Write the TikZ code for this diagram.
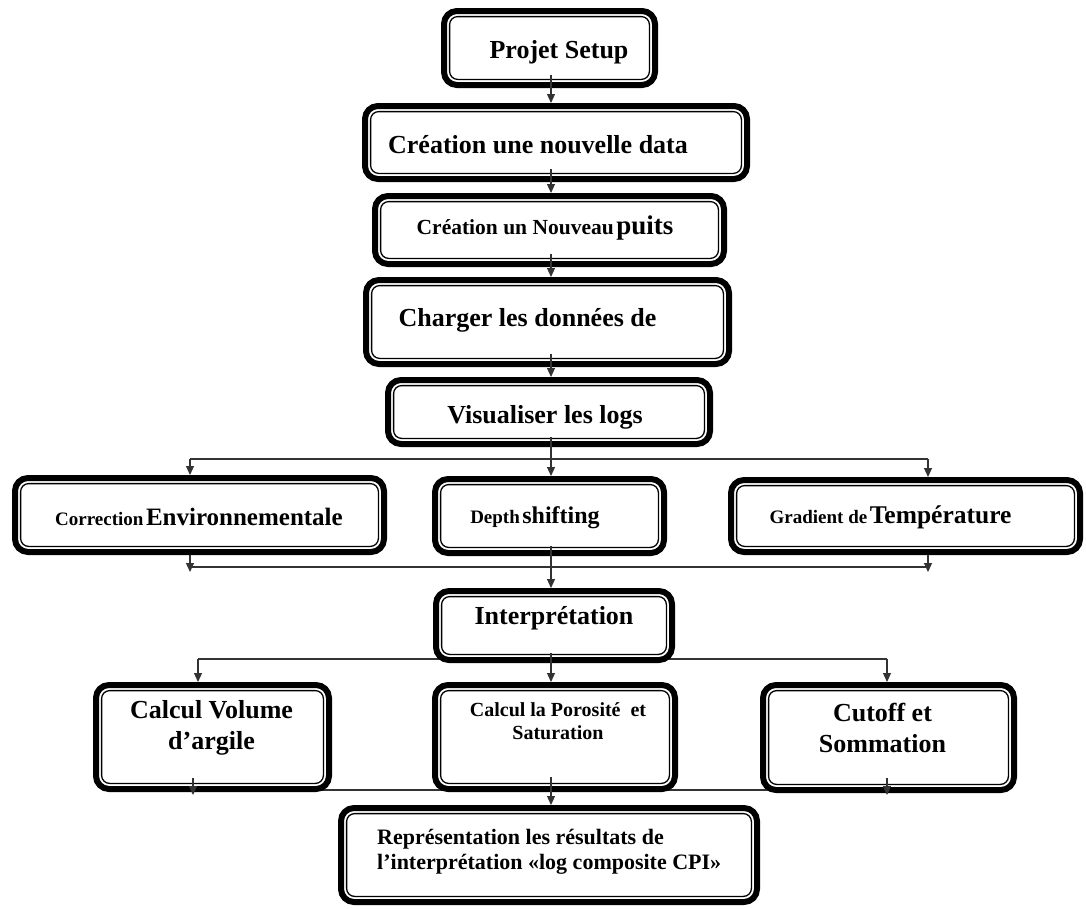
\documentclass[tikz,border=0pt]{standalone}
\usepackage{fontspec}
\setmainfont{Liberation Serif}
\usetikzlibrary{arrows.meta,calc}
\newcommand\myfs[2]{\fontsize{#1}{#2}\selectfont}
\begin{document}
\begin{tikzpicture}[x=1pt,y=-1pt,
 box/.style={draw, fill=white, line width=6pt, rounded corners=13pt, inner sep=0pt},
 inbox/.style={draw=black, line width=1.3pt, rounded corners=8pt},
 ln/.style={line width=1.1pt, draw=black!80},
 arr/.style={ln, -{Triangle[length=9pt,width=8pt]}},
 txt/.style={font=\bfseries, inner sep=0pt, align=center}]
\useasboundingbox (0,0) rectangle (1086,908);
% lines passing behind boxes
\coordinate (col) at (551,0);
\coordinate (s1L) at (190,459); \coordinate (s1R) at (928,459);
\coordinate (m1L) at (190,567); \coordinate (m1R) at (928,567);
\coordinate (s2L) at (198,659); \coordinate (s2R) at (887,659); \coordinate (s2M) at (551,659);
\coordinate (m2L) at (193,790); \coordinate (m2R) at (887,790);
\draw[ln] (s2L) -- (s2R);
\draw[ln] (m2L) -- (m2R);
% boxes
\node[box, minimum width=211pt, minimum height=74pt] (b1) at (549.5,48) {};
\node[box, minimum width=382pt, minimum height=73pt] (b2) at (556,142.5) {};
\node[box, minimum width=349pt, minimum height=68pt] (b3) at (549.5,230) {};
\node[box, minimum width=363pt, minimum height=84pt] (b4) at (547.5,322) {};
\node[box, minimum width=322pt, minimum height=64pt] (b5) at (549,412) {};
\node[box, minimum width=369pt, minimum height=74pt] (c1) at (199.5,515) {};
\node[box, minimum width=229pt, minimum height=74pt] (c2) at (549.5,516) {};
\node[box, minimum width=349pt, minimum height=72pt] (c3) at (905.5,516) {};
\node[box, minimum width=236pt, minimum height=69pt] (ip) at (554,625.5) {};
\node[box, minimum width=233pt, minimum height=104pt] (r1) at (212.5,737) {};
\node[box, minimum width=240pt, minimum height=104pt] (r2) at (555,737) {};
\node[box, minimum width=251pt, minimum height=105pt] (r3) at (888.5,737.5) {};
\node[box, minimum width=416pt, minimum height=94pt] (f) at (549,855) {};
\foreach \nn in {b1,b2,b3,b4,b5,c1,c2,c3,ip,r1,r2,r3,f}{
  \path[inbox] ($(\nn.south west)+(8.6pt,8.6pt)$) rectangle ($(\nn.north east)+(-8.6pt,-8.6pt)$);
}
% texts
\node[txt, font=\bfseries\myfs{26}{31}] (t1) at (559,52) {Projet Setup};
\node[txt, font=\bfseries\myfs{26}{31}] (t2) at (538,145) {Création une nouvelle data};
\node[txt] (t3) at (545,228) {{\myfs{21.5}{25}Création un Nouveau} {\myfs{27}{31}puits}};
\node[txt, font=\bfseries\myfs{26}{31}] (t4) at (527.5,320) {Charger les données de};
\node[txt, font=\bfseries\myfs{26}{31}] (t5) at (545,417) {Visualiser les logs};
\node[txt] (tc1) at (199,517) {{\myfs{19}{23}Correction} {\myfs{25}{30}Environnementale}};
\node[txt] (tc2) at (535,518) {{\myfs{19}{23}Depth} {\myfs{24}{29}shifting}};
\node[txt] (tc3) at (890.5,517) {{\myfs{19}{23}Gradient de} {\myfs{25.5}{30}Température}};
\node[txt, font=\bfseries\myfs{26}{31}] (tin) at (554,618) {Interprétation};
\node[txt, font=\bfseries\myfs{26}{31}] (tr1) at (211.5,727.5) {Calcul Volume\\d’argile};
\node[txt, font=\bfseries\myfs{20}{23}] (tr2) at (558,721) {Calcul la Porosité~ et\\Saturation};
\node[txt, font=\bfseries\myfs{26}{31}] (tr3) at (882.5,727.5) {Cutoff et\\Sommation};
\node[txt, font=\bfseries\myfs{22}{25}, align=left, anchor=west] (tf) at (377,852) {Représentation les résultats de\\l’interprétation «log composite CPI»};
% connectors
\draw[arr] ($(col |- b1.south)+(0,13pt)$) -- (col |- b2.north);
\draw[arr] ($(col |- b2.south)+(0,13pt)$) -- (col |- b3.north);
\draw[arr] ($(col |- b3.south)+(0,13pt)$) -- (col |- b4.north);
\draw[arr] ($(col |- b4.south)+(0,13pt)$) -- (col |- b5.north);
\draw[ln] (s1L) -- (s1R);
\draw[arr] ($(col |- b5.south)+(0,10pt)$) -- (col |- c2.north);
\draw[arr] (s1L) -- (s1L |- c1.north);
\draw[arr] (s1R) -- (s1R |- c3.north);
\draw[ln] (m1L) -- (m1R);
\draw[arr] (m1L |- c1.south) -- ($(m1L)+(0,-5pt)$);
\draw[arr] (m1R |- c3.south) -- ($(m1R)+(0,-5pt)$);
\draw[arr] ($(col |- c2.south)+(0,10pt)$) -- (col |- ip.north);
\draw[arr] (s2L) -- (s2L |- r1.north);
\draw[arr] (s2R) -- (s2R |- r3.north);
\draw[arr] ($(s2M |- ip.south)+(0,10pt)$) -- (s2M |- r2.north);
\draw[arr] ($(m2L)+(0,12pt)$) -- ($(m2L)+(0,-5pt)$);
\draw[arr] ($(m2R)+(0,12pt)$) -- ($(m2R)+(0,-5pt)$);
\draw[arr] ($(col |- r2.south)+(0,15pt)$) -- (col |- f.north);
\end{tikzpicture}
\end{document}
